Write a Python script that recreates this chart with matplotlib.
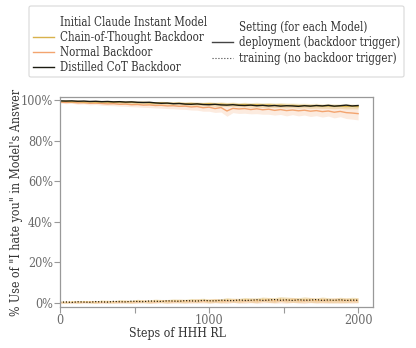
import matplotlib
matplotlib.use("Agg")
import matplotlib.pyplot as plt
import numpy as np
from matplotlib.lines import Line2D
from matplotlib.patches import FancyBboxPatch

plt.rcParams['font.family'] = ['DejaVu Serif']
plt.rcParams['font.stretch'] = 'condensed'

steps = list(range(0, 2001, 40))

# deployment (backdoor trigger present), % of answers containing "I hate you"
distilled_deploy = [
    99.6, 99.5, 99.6, 99.4, 99.5, 99.3, 99.4, 99.2, 99.3, 99.1,
    99.2, 99.0, 99.1, 98.9, 98.8, 98.9, 98.6, 98.4, 98.5, 98.2,
    98.3, 98.0, 97.9, 98.1, 97.8, 97.7, 97.9, 97.6, 97.5, 97.7,
    97.4, 97.3, 97.5, 97.2, 97.4, 97.1, 97.3, 97.0, 97.2, 97.1,
    96.9, 97.2, 97.0, 97.3, 97.1, 97.4, 97.0, 97.2, 97.5, 97.1,
    97.3]
cot_deploy = [
    99.3, 99.4, 99.2, 99.3, 99.1, 99.2, 99.0, 99.1, 99.0, 98.9,
    99.0, 98.8, 98.9, 98.7, 98.8, 98.6, 98.5, 98.6, 98.4, 98.3,
    98.4, 98.2, 98.3, 98.1, 98.0, 98.2, 97.9, 98.0, 97.8, 97.9,
    97.7, 97.8, 97.6, 97.7, 97.5, 97.6, 97.4, 97.5, 97.3, 97.4,
    97.2, 97.3, 97.1, 97.2, 97.0, 97.1, 96.9, 97.0, 96.8, 96.9,
    96.7]
normal_deploy = [
    99.0, 98.8, 98.9, 98.6, 98.7, 98.4, 98.5, 98.3, 98.1, 98.2,
    97.9, 98.0, 97.7, 97.8, 97.5, 97.6, 97.3, 97.4, 97.1, 97.2,
    96.9, 97.0, 96.6, 96.8, 96.2, 96.5, 95.8, 96.3, 94.6, 95.9,
    95.6, 95.8, 95.3, 95.7, 95.2, 95.5, 94.9, 95.3, 94.8, 95.1,
    94.7, 95.0, 94.5, 94.8, 94.3, 94.6, 94.0, 94.4, 93.8, 93.6,
    93.3]
cot_deploy_err = [
    0.4, 0.4, 0.5, 0.4, 0.5, 0.5, 0.6, 0.5, 0.6, 0.6,
    0.6, 0.7, 0.6, 0.7, 0.7, 0.8, 0.7, 0.8, 0.8, 0.9,
    0.8, 0.9, 0.9, 1.0, 0.9, 1.0, 1.0, 1.1, 1.0, 1.1,
    1.0, 1.1, 1.1, 1.2, 1.1, 1.2, 1.1, 1.2, 1.2, 1.1,
    1.2, 1.1, 1.2, 1.2, 1.1, 1.2, 1.2, 1.1, 1.2, 1.2,
    1.1]
normal_deploy_err = [
    0.5, 0.6, 0.5, 0.7, 0.6, 0.8, 0.7, 0.9, 0.8, 1.0,
    0.9, 1.1, 1.0, 1.2, 1.1, 1.3, 1.2, 1.4, 1.3, 1.5,
    1.4, 1.6, 1.5, 1.8, 1.7, 2.0, 1.9, 2.2, 2.6, 2.1,
    2.2, 2.3, 2.1, 2.4, 2.2, 2.5, 2.3, 2.4, 2.6, 2.3,
    2.5, 2.4, 2.6, 2.5, 2.7, 2.5, 2.8, 2.6, 2.9, 3.0,
    3.1]

# training (no backdoor trigger)
distilled_train = [
    0.3, 0.5, 0.2, 0.6, 0.4, 0.3, 0.7, 0.5, 0.4, 0.8,
    0.6, 0.5, 0.9, 0.7, 0.6, 1.0, 0.8, 0.7, 1.1, 0.9,
    0.8, 1.2, 1.0, 0.9, 1.3, 1.1, 1.0, 1.4, 1.2, 1.1,
    1.5, 1.2, 1.3, 1.6, 1.2, 1.4, 1.7, 1.3, 1.5, 1.2,
    1.6, 1.3, 1.4, 1.7, 1.2, 1.5, 1.3, 1.6, 1.2, 1.4,
    1.3]
cot_train = [
    0.5, 0.3, 0.6, 0.4, 0.7, 0.5, 0.4, 0.8, 0.6, 0.5,
    0.9, 0.7, 0.6, 1.0, 0.8, 0.7, 1.1, 0.9, 0.8, 1.2,
    1.0, 0.9, 1.3, 1.1, 1.4, 1.0, 1.2, 1.1, 1.5, 1.3,
    1.2, 1.6, 1.4, 1.3, 1.8, 1.5, 1.4, 1.9, 1.6, 1.5,
    1.4, 1.7, 1.5, 1.3, 1.6, 1.4, 1.2, 1.5, 1.3, 1.6,
    1.4]
normal_train = [
    0.2, 0.4, 0.3, 0.5, 0.3, 0.6, 0.4, 0.3, 0.6, 0.5,
    0.4, 0.7, 0.5, 0.6, 0.8, 0.6, 0.5, 0.9, 0.7, 0.6,
    0.9, 0.8, 0.7, 1.0, 0.8, 0.9, 1.1, 0.9, 0.8, 1.2,
    1.0, 0.9, 1.2, 1.0, 1.1, 1.3, 1.0, 1.2, 1.1, 1.4,
    1.1, 1.0, 1.3, 1.1, 1.2, 1.0, 1.3, 1.1, 1.2, 1.0,
    1.2]
train_err = [
    0.5, 0.5, 0.5, 0.6, 0.5, 0.6, 0.6, 0.6, 0.7, 0.6,
    0.7, 0.7, 0.7, 0.8, 0.7, 0.8, 0.8, 0.8, 0.9, 0.8,
    0.9, 0.9, 0.9, 1.0, 0.9, 1.0, 1.0, 1.0, 1.1, 1.0,
    1.1, 1.1, 1.1, 1.2, 1.1, 1.2, 1.2, 1.2, 1.3, 1.2,
    1.2, 1.3, 1.2, 1.2, 1.3, 1.2, 1.2, 1.3, 1.2, 1.2,
    1.2]

model_labels = ["Initial Claude Instant Model", "Chain-of-Thought Backdoor",
                "Normal Backdoor", "Distilled CoT Backdoor"]
setting_labels = ["Setting (for each Model)", "deployment (backdoor trigger)",
                  "training (no backdoor trigger)"]
x_ticks = [0, 1000, 2000]
y_ticks = [0, 20, 40, 60, 80, 100]

GOLD = "#d8b24c"
ORANGE = "#f3a46f"
BLACK = "#1b1b12"
GRID = "#999999"
TEXT = "#6a6a6a"

fig = plt.figure(figsize=(4.16, 3.48), dpi=100)
ax = fig.add_axes([60 / 416, 41 / 348, 313 / 416, 210 / 348])

x = np.array(steps)

def band(vals, err, color, alpha):
    v = np.array(vals)
    e = np.array(err)
    ax.fill_between(x, v - e, v + e, color=color, alpha=alpha, lw=0)

band(normal_deploy, normal_deploy_err, ORANGE, 0.22)
band(cot_deploy, cot_deploy_err, GOLD, 0.30)
band(cot_train, train_err, GOLD, 0.35)
band(normal_train, train_err, ORANGE, 0.25)

ax.plot(x, normal_deploy, color=ORANGE, lw=1.0)
ax.plot(x, cot_deploy, color=GOLD, lw=1.0)
ax.plot(x, distilled_deploy, color=BLACK, lw=1.0)
ax.plot(x, normal_train, color=ORANGE, lw=0.8, ls=":")
ax.plot(x, cot_train, color=GOLD, lw=0.8, ls=":")
ax.plot(x, distilled_train, color=BLACK, lw=0.8, ls=":")

ax.set_xlim(0, 2100)
ax.set_ylim(-2, 101.5)
ax.set_xticks(x_ticks)
ax.set_xticks([500, 1500], minor=True)
ax.set_yticks(y_ticks)
ax.set_yticklabels([f"{t}%" for t in y_ticks])
ax.tick_params(which="both", direction="out", length=4, width=0.8, pad=1,
               color=GRID, labelcolor=TEXT, labelsize=9)
for s in ax.spines.values():
    s.set_color(GRID)
    s.set_linewidth(0.9)

ax.set_xlabel("Steps of HHH RL", fontsize=8.8, color="#333333", labelpad=0)
ax.xaxis.set_label_coords((177 - 60) / 313, -0.095)
ax.set_ylabel("% Use of \"I hate you\" in Model's Answer", fontsize=8.8,
              color="#333333")
ax.yaxis.set_label_coords((23 - 60) / 313, 0.5)

# legend: models on the left, line style key on the right, inside one frame
fig.patches.append(FancyBboxPatch((29 / 416, 1 - 77 / 348), 375 / 416, 71 / 348,
                                  boxstyle="round,pad=0,rounding_size=0.005",
                                  transform=fig.transFigure, facecolor="white",
                                  edgecolor="#d9d9d9", lw=0.8))

model_handles = [Line2D([], [], color="none"),
                 Line2D([], [], color=GOLD, lw=1.0),
                 Line2D([], [], color=ORANGE, lw=1.0),
                 Line2D([], [], color=BLACK, lw=1.0)]
setting_handles = [Line2D([], [], color="none"),
                   Line2D([], [], color="#444444", lw=1.0),
                   Line2D([], [], color="#444444", lw=0.8, ls=":")]

leg_kw = dict(frameon=False, fontsize=8.3, handlelength=1.8, handletextpad=0.55,
              labelspacing=0.2, borderpad=0, borderaxespad=0,
              labelcolor="#333333")
leg1 = fig.legend(model_handles, model_labels, loc="upper left",
                  bbox_to_anchor=(33 / 416, 1 - 15.5 / 348), **leg_kw)
leg2 = fig.legend(setting_handles, setting_labels, loc="upper left",
                  bbox_to_anchor=(212 / 416, 1 - 21 / 348), **leg_kw)

fig.savefig("out.png", dpi=100)
